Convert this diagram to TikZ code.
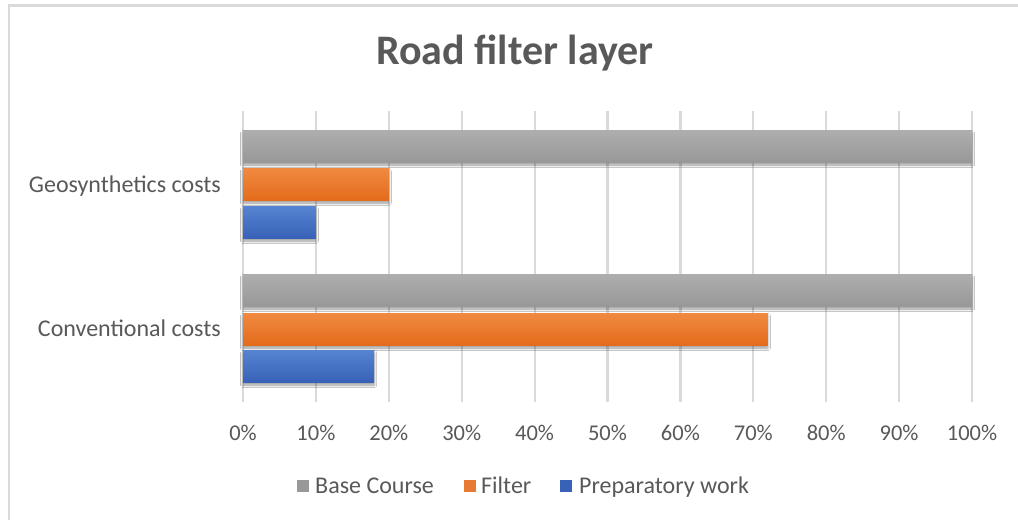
\documentclass[tikz,border=0pt]{standalone}
\usepackage{fontspec}
\setmainfont{Carlito}
\usetikzlibrary{shadows.blur}
\definecolor{txt}{HTML}{595959}
\definecolor{grid}{HTML}{D9D9D9}
\definecolor{frame}{HTML}{D9D9D9}
\definecolor{grayT}{HTML}{AEAEAE}
\definecolor{grayB}{HTML}{989898}
\definecolor{oranT}{HTML}{F08A40}
\definecolor{oranB}{HTML}{E46C1C}
\definecolor{blueT}{HTML}{5684D2}
\definecolor{blueB}{HTML}{3862B7}
\tikzset{
  lbl/.style={text=txt, font=\fontsize{24}{28}\selectfont, inner sep=0pt},
  ticklbl/.style={text=txt, font=\fontsize{22.5}{27}\selectfont, inner sep=0pt},
  gridline/.style={draw=grid, line width=2.2pt},
  barshadow/.style={blur shadow={shadow xshift=0pt, shadow yshift=-3pt, shadow blur steps=6, shadow opacity=40, shadow blur radius=2.5pt}},
  graybar/.style={barshadow, top color=grayT, bottom color=grayB},
  orangebar/.style={barshadow, top color=oranT, bottom color=oranB},
  bluebar/.style={barshadow, top color=blueT, bottom color=blueB},
  legsq/.style={inner sep=0pt, minimum width=12pt, minimum height=12pt},
}
\begin{document}
\begin{tikzpicture}[x=1pt,y=-1pt]
\useasboundingbox (0,0) rectangle (1018,520);
\fill[white] (0,0) rectangle (1018,520);
% frame (only top and left visible)
\draw[frame, line width=2.5pt] (9,520) -- (9,5.5) -- (1018,5.5);
% title
\node[text=txt, font=\fontsize{42}{49}\selectfont\bfseries, anchor=base, inner sep=0pt] (title) at (515,64) {Road filter layer};
% gridlines
\foreach \i in {0,...,10} {
  \draw[gridline] (243+72.9*\i,111) -- (243+72.9*\i,402);
  \pgfmathtruncatemacro{\p}{10*\i}
  \node[ticklbl, anchor=base] (tick\i) at (243+72.9*\i,440) {\p\%};
}
% Geosynthetics bars
\path[graybar]   (243,130) rectangle (972,162);
\path[orangebar] (243,168) rectangle (388.8,200);
\path[bluebar]   (243,206) rectangle (315.9,238);
% Conventional bars
\path[graybar]   (243,274) rectangle (972,306);
\path[orangebar] (243,313) rectangle (767.9,345);
\path[bluebar]   (243,350) rectangle (374.2,382);
% category labels
\node[lbl, anchor=base east] (geo) at (221,192) {Geosynthetics costs};
\node[lbl, anchor=base east] (conv) at (221,336) {Conventional costs};
% legend
\node[legsq, fill=grayB] (sq1) at (303,485.5) {};
\node[lbl, anchor=base west] (l1) at (315,493) {Base Course};
\node[legsq, fill=oranB!90!white] (sq2) at (469.5,485.5) {};
\node[lbl, anchor=base west] (l2) at (481,493) {Filter};
\node[legsq, fill=blueB] (sq3) at (566,485.5) {};
\node[lbl, anchor=base west] (l3) at (579,493) {Preparatory work};
\end{tikzpicture}
\end{document}
